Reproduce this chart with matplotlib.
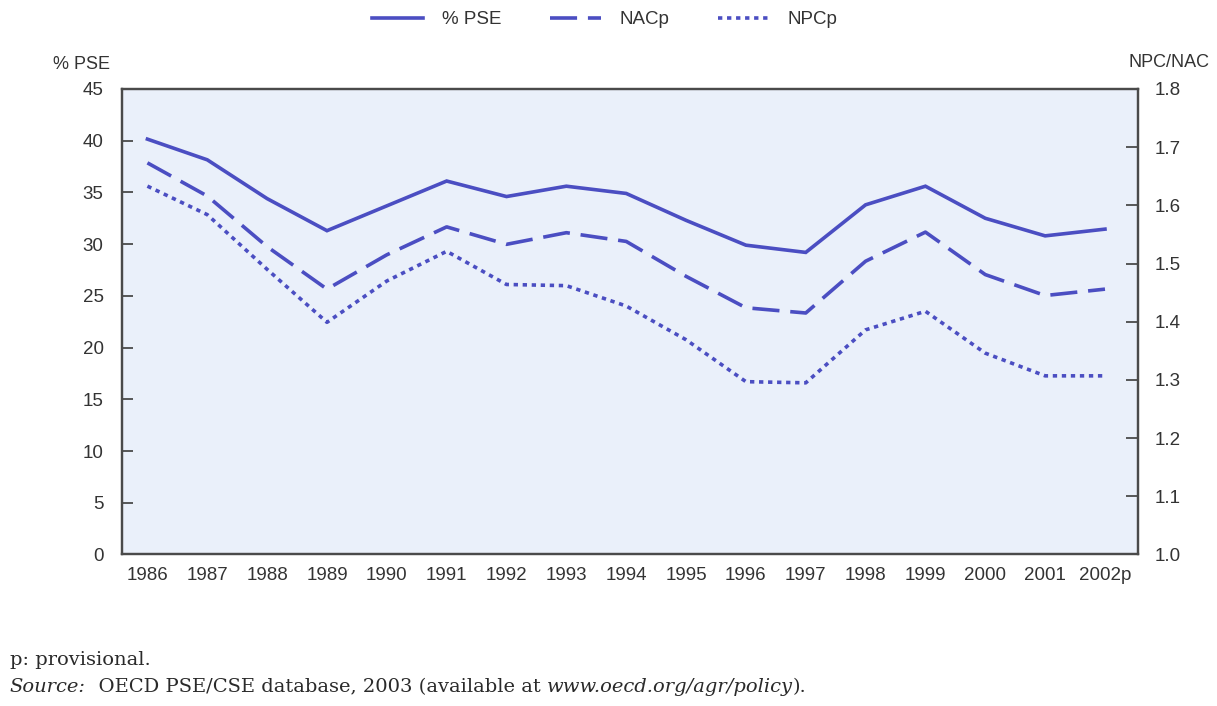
import matplotlib
matplotlib.use("Agg")
import matplotlib.pyplot as plt
import numpy as np

years = ["1986", "1987", "1988", "1989", "1990", "1991", "1992", "1993", "1994",
         "1995", "1996", "1997", "1998", "1999", "2000", "2001", "2002p"]
pse = [40.15, 38.15, 34.4, 31.3, 33.7, 36.1, 34.6, 35.6, 34.9,
       32.3, 29.9, 29.2, 33.8, 35.6, 32.5, 30.8, 31.45]
nacp = [1.673, 1.616, 1.529, 1.456, 1.515, 1.563, 1.533, 1.553, 1.538,
        1.478, 1.424, 1.415, 1.504, 1.554, 1.481, 1.445, 1.456]
npcp = [1.633, 1.584, 1.490, 1.399, 1.470, 1.521, 1.464, 1.462, 1.427,
        1.369, 1.297, 1.295, 1.386, 1.418, 1.346, 1.307, 1.307]
left_ticks = [0, 5, 10, 15, 20, 25, 30, 35, 40, 45]
right_ticks = [1.0, 1.1, 1.2, 1.3, 1.4, 1.5, 1.6, 1.7, 1.8]

LINE = "#4b4ec2"
SPINE = "#4a4a4a"
TXT = "#333333"
FONT = "Liberation Sans"
SERIF = "DejaVu Serif"

fig = plt.figure(figsize=(12.17, 7.06), dpi=100)
fig.patch.set_facecolor("white")
ax = fig.add_axes([0.1, 0.2146, 0.835, 0.6594])
ax.set_facecolor("#eaf0fa")
ax2 = ax.twinx()

x = np.arange(len(years))
l1, = ax.plot(x, pse, color=LINE, lw=2.6, solid_joinstyle="miter", label="% PSE")
l2, = ax2.plot(x, nacp, color=LINE, lw=2.6, dashes=(7.5, 3.0), label="NACp")
l3, = ax2.plot(x, npcp, color=LINE, lw=2.6, dashes=(1.2, 1.3), label="NPCp")

ax.set_xlim(-0.43, 16.55)
ax.set_ylim(0, 45)
ax2.set_ylim(1.0, 1.8)

ax.set_xticks(x)
ax.set_xticklabels(years)
ax.set_yticks(left_ticks)
ax.set_yticklabels([str(t) for t in left_ticks])
ax2.set_yticks(right_ticks)
ax2.set_yticklabels([f"{t:.1f}" for t in right_ticks])

ax.tick_params(axis="x", length=0, pad=9, labelsize=13.5, labelcolor=TXT)
ax.tick_params(axis="y", direction="in", length=8, width=1.3, color=SPINE,
               pad=13, labelsize=13.5, labelcolor=TXT)
ax2.tick_params(axis="y", direction="in", length=9, width=1.3, color=SPINE,
                pad=12, labelsize=13.5, labelcolor=TXT)
for a in (ax, ax2):
    for lab in a.get_xticklabels() + a.get_yticklabels():
        lab.set_fontfamily(FONT)
    for s in a.spines.values():
        s.set_color(SPINE)
        s.set_linewidth(1.6)

fig.text(0.09, 0.908, "% PSE", ha="right", va="center", fontsize=13,
         family=FONT, color=TXT)
fig.text(0.994, 0.912, "NPC/NAC", ha="right", va="center", fontsize=13,
         family=FONT, color=TXT)

leg = fig.legend(handles=[l1, l2, l3], loc="center", bbox_to_anchor=(0.497, 0.972),
                 ncol=3, frameon=False, handlelength=2.7,
                 columnspacing=2.6, handletextpad=1.0, prop={"family": FONT, "size": 13.5})
for t in leg.get_texts():
    t.set_color(TXT)

FS = 14
fig.text(0.008, 0.065, "p: provisional.", ha="left", va="center", fontsize=FS,
         family=SERIF, color="#2a2a2a")

pieces = [("Source:", "italic"), ("  OECD PSE/CSE database, 2003 (available at ", "normal"),
          ("www.oecd.org/agr/policy", "italic"), (").", "normal")]
xpos = 0.008
for txt, sty in pieces:
    t = fig.text(xpos, 0.027, txt, ha="left", va="center", fontsize=FS,
                 family=SERIF, style=sty, color="#2a2a2a")
    fig.canvas.draw()
    xpos = t.get_window_extent().x1 / fig.bbox.width

fig.savefig("out.png", dpi=100, facecolor=fig.get_facecolor())
